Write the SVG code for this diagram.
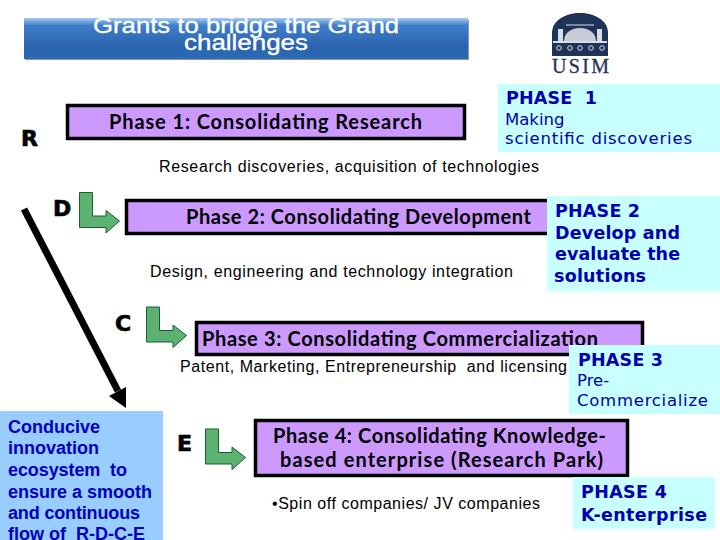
<svg xmlns="http://www.w3.org/2000/svg" width="720" height="540" viewBox="0 0 720 540">
<style>
.ph{fill:#cc99ff;stroke:#000;stroke-width:3.5}
.pt{font-family:"Lato","Liberation Sans",sans-serif;font-weight:700;font-size:20px;fill:#000}
.sub{font-family:"Liberation Sans",Arial,sans-serif;font-size:16px;fill:#000}
.cy{fill:#c8ffff}
.bh{font-family:"DejaVu Sans",sans-serif;font-weight:700;font-size:17.5px;fill:#0000b0}
.bn{font-family:"DejaVu Sans",sans-serif;font-size:16.5px;fill:#0000a8}
.let{font-family:"DejaVu Sans",sans-serif;font-weight:700;font-size:22px;fill:#000;stroke:#000;stroke-width:.7}
.gr{fill:#5cb270;stroke:#1a5c34;stroke-width:1}
.cb{font-family:"Liberation Sans",Arial,sans-serif;font-weight:700;font-size:18px;fill:#0000c0}
.tt{font-family:"Liberation Sans",Arial,sans-serif;font-size:22px;fill:#fff;stroke:#fff;stroke-width:.35}
</style>
<defs>
<linearGradient id="tg" x1="0" y1="0" x2="0" y2="1">
<stop offset="0" stop-color="#a8ccf0"/><stop offset="0.18" stop-color="#3f7fcb"/><stop offset="0.7" stop-color="#2a62ad"/><stop offset="1" stop-color="#2b6cb8"/>
</linearGradient>
<polygon id="ga" points="79.5,192.500 92.500,192.500 92.500,216 106,216 106,210.500 119.500,221 106,233 106,227.500 79.500,227.500"/>
</defs>
<rect width="720" height="540" fill="#fff"/>
<g id="title">
<rect x="25" y="20" width="444" height="40" fill="#8a98a8"/>
<rect x="24" y="18" width="444" height="41" fill="url(#tg)"/>
<text class="tt" x="93" y="33" textLength="306" lengthAdjust="spacingAndGlyphs">Grants to bridge the Grand</text>
<text class="tt" x="184" y="49.500" textLength="124" lengthAdjust="spacingAndGlyphs">challenges</text>
</g>
<g id="logo">
<path d="M552 56V33C552 20 566 13 580 13C594 13 608 20 608 33V56Z" fill="#1f3358"/>
<path d="M558 41V29H563V41ZM597 41V29H602V41Z" fill="#d8dde6"/>
<path d="M564 41C564 33 571 28 580 28C589 28 596 33 596 41Z" fill="#c7ccd6"/>
<rect x="553" y="41" width="54" height="2" fill="#d8dde6"/>
<g fill="none" stroke="#d8dde6" stroke-width="1"><circle cx="559" cy="48" r="2.300"/><circle cx="570" cy="48" r="2.300"/><circle cx="580" cy="48" r="2.300"/><circle cx="591" cy="48" r="2.300"/><circle cx="602" cy="48" r="2.300"/></g>
<path d="M566 25H594" stroke="#d8dde6" stroke-width="1"/>
<text x="552" y="73" font-family="Liberation Serif,serif" font-size="20" fill="#1f3358" stroke="#1f3358" stroke-width=".3" textLength="57">USIM</text>
</g>
<g id="connectors">
<path d="M24 209L118 391" stroke="#000" stroke-width="7" fill="none"/>
<polygon points="126,408 109,396 126,387" fill="#000"/>
<use href="#ga" class="gr"/>
<use href="#ga" class="gr" x="67" y="114.500"/>
<use href="#ga" class="gr" x="126" y="236.500"/>
</g>
<g id="r-label"><text class="let" x="21" y="146">R</text></g>
<g id="d-label"><text class="let" x="53" y="216">D</text></g>
<g id="c-label"><text class="let" x="115" y="331">C</text></g>
<g id="e-label"><text class="let" x="177" y="451">E</text></g>
<g id="phase1">
<rect class="ph" x="67.500" y="105.500" width="397" height="33"/>
<text class="pt" x="109" y="129" textLength="313">Phase 1: Consolidating Research</text>
</g>
<text class="sub" x="159" y="172" textLength="380">Research discoveries, acquisition of technologies</text>
<g id="phase2">
<rect class="ph" x="126.500" y="200.500" width="430" height="33"/>
<text class="pt" x="186" y="224" textLength="345">Phase 2: Consolidating Development</text>
</g>
<text class="sub" x="150" y="277" textLength="363">Design, engineering and technology integration</text>
<g id="phase3">
<rect class="ph" x="196.500" y="322.500" width="446" height="32"/>
<text class="pt" x="202" y="346" textLength="396">Phase 3: Consolidating Commercialization</text>
</g>
<text class="sub" x="180" y="372" textLength="387" xml:space="preserve">Patent, Marketing, Entrepreneurship  and licensing</text>
<g id="phase4">
<rect class="ph" x="255.500" y="420.500" width="372" height="55"/>
<text class="pt" x="273" y="443" textLength="333">Phase 4: Consolidating Knowledge-</text>
<text class="pt" x="280" y="467" textLength="323">based enterprise (Research Park)</text>
</g>
<text class="sub" x="272" y="509" textLength="268">•Spin off companies/ JV companies</text>
<g id="phase1-note">
<rect class="cy" x="498" y="84" width="222" height="68"/>
<text class="bh" x="506" y="104" textLength="91" xml:space="preserve">PHASE  1</text>
<text class="bn" x="505" y="125">Making</text>
<text class="bn" x="505" y="144" textLength="187">scientific discoveries</text>
</g>
<g id="phase2-note">
<rect class="cy" x="547" y="196" width="173" height="95"/>
<text class="bh" x="555" y="217" textLength="85">PHASE 2</text>
<text class="bh" x="555" y="239" textLength="125">Develop and</text>
<text class="bh" x="555" y="260" textLength="125">evaluate the</text>
<text class="bh" x="554" y="282" textLength="92">solutions</text>
</g>
<g id="phase3-note">
<rect class="cy" x="569" y="345" width="151" height="69"/>
<text class="bh" x="578" y="366" textLength="85">PHASE 3</text>
<text class="bn" x="577" y="386">Pre-</text>
<text class="bn" x="577" y="406" textLength="131">Commercialize</text>
</g>
<g id="phase4-note">
<rect class="cy" x="573" y="477" width="142" height="52"/>
<text class="bh" x="581" y="498" textLength="86">PHASE 4</text>
<text class="bh" x="581" y="521" textLength="126">K-enterprise</text>
</g>
<g id="ecosystem">
<rect x="0" y="411" width="163" height="129" fill="#99ccff"/>
<text class="cb" x="8" y="433">Conducive</text>
<text class="cb" x="8" y="454">innovation</text>
<text class="cb" x="8" y="476" textLength="119" xml:space="preserve">ecosystem  to</text>
<text class="cb" x="8" y="498" textLength="144">ensure a smooth</text>
<text class="cb" x="8" y="519" textLength="132">and continuous</text>
<text class="cb" x="8" y="539.500" textLength="137" xml:space="preserve">flow of  R-D-C-E</text>
</g>
</svg>
